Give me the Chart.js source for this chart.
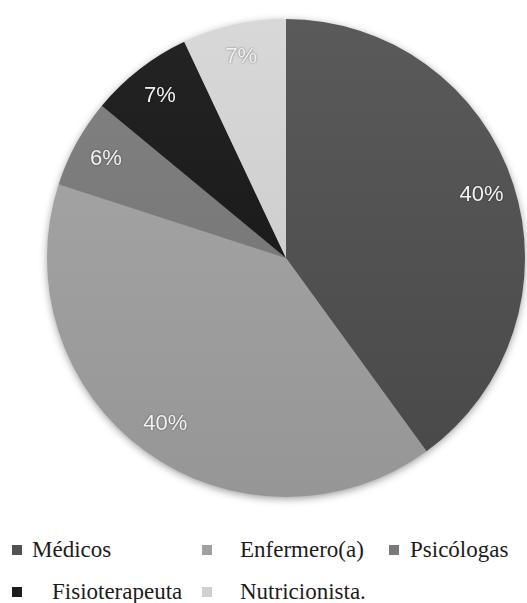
<!DOCTYPE html>
<html>
<head>
<meta charset="utf-8">
<script src="https://cdn.jsdelivr.net/npm/chart.js@4"></script>
<style>
  body { margin: 0; background: #fff; }
  #wrap { position: relative; width: 527px; height: 603px; }
  #box { position: absolute; left: 0; top: 0; width: 527px; height: 512px; }
  .mk { position: absolute; width: 10px; height: 10px; }
  .lb { position: absolute; font-size: 23px; color: #1c1c1c; line-height: 1; white-space: nowrap; }
</style>
</head>
<body>
<div id="wrap">
  <div id="box"><canvas id="myChart"></canvas></div>
  <div id="legend"></div>
</div>
<script>
// profesionales
const labels = ['Médicos', 'Enfermero(a)', 'Psicólogas', 'Fisioterapeuta', 'Nutricionista.'];
const values = [40, 40, 6, 7, 7];
const grays = [82, 160, 122, 28, 208];

const ctx = document.getElementById('myChart');

// vertical gradient per slice, slightly lighter at the top
function sliceFill(c) {
  const g = grays[c.dataIndex];
  const area = c.chart.chartArea;
  if (!area) return 'rgb(' + g + ',' + g + ',' + g + ')';
  const grad = c.chart.ctx.createLinearGradient(0, area.top, 0, area.bottom);
  const a = Math.min(255, g + 8), b = Math.max(0, g - 10);
  grad.addColorStop(0, 'rgb(' + a + ',' + a + ',' + a + ')');
  grad.addColorStop(1, 'rgb(' + b + ',' + b + ',' + b + ')');
  return grad;
}

const shadowPlugin = {
  id: 'pieShadow',
  beforeDatasetsDraw(chart) {
    const arc = chart.getDatasetMeta(0).data[0];
    if (!arc) return;
    const c = chart.ctx;
    c.save();
    c.shadowColor = 'rgba(0,0,0,0.45)';
    c.shadowBlur = 9;
    c.shadowOffsetY = 2;
    c.fillStyle = '#888';
    c.beginPath();
    c.arc(arc.x, arc.y, arc.outerRadius - 1, 0, Math.PI * 2);
    c.fill();
    c.restore();
  }
};

const labelPlugin = {
  id: 'pctLabels',
  afterDatasetsDraw(chart) {
    const c = chart.ctx;
    const total = values.reduce((s, v) => s + v, 0);
    c.save();
    c.font = '22px "Liberation Sans Narrow", "Liberation Sans", Arial, sans-serif';
    c.fillStyle = '#f2f2f2';
    c.textAlign = 'center';
    c.textBaseline = 'middle';
    c.shadowColor = 'rgba(0,0,0,0.5)';
    c.shadowBlur = 2;
    chart.getDatasetMeta(0).data.forEach((arc, i) => {
      const mid = (arc.startAngle + arc.endAngle) / 2;
      const r = arc.outerRadius * 0.86;
      const x = arc.x + Math.cos(mid) * r;
      const y = arc.y + Math.sin(mid) * r;
      c.fillText(Math.round(values[i] / total * 100) + '%', x, y);
    });
    c.restore();
  }
};

new Chart(ctx, {
  type: 'pie',
  data: {
    labels: labels,
    datasets: [{
      data: values,
      backgroundColor: sliceFill,
      borderWidth: 0
    }]
  },
  options: {
    responsive: true,
    maintainAspectRatio: false,
    animation: false,
    layout: { padding: { left: 47, right: 2, top: 18, bottom: 14 } },
    plugins: {
      legend: { display: false },
      tooltip: { enabled: false }
    }
  },
  plugins: [shadowPlugin, labelPlugin]
});

// legend laid out like the original (two rows)
const mkLeft = [12, 202, 389, 12, 202];
const txLeft = [32, 240, 410, 52, 240];
const rowTop = [0, 0, 0, 1, 1];
const legend = document.getElementById('legend');
labels.forEach((name, i) => {
  const g = grays[i];
  const y = 538 + rowTop[i] * 42;
  const mk = document.createElement('div');
  mk.className = 'mk';
  mk.style.left = mkLeft[i] + 'px';
  mk.style.top = (y + 7) + 'px';
  mk.style.background = 'rgb(' + g + ',' + g + ',' + g + ')';
  legend.appendChild(mk);
  const tx = document.createElement('div');
  tx.className = 'lb';
  tx.style.fontFamily = '"Liberation Serif", "DejaVu Serif", serif';
  tx.style.left = txLeft[i] + 'px';
  tx.style.top = y + 'px';
  tx.textContent = name;
  legend.appendChild(tx);
});
</script>
</body>
</html>
